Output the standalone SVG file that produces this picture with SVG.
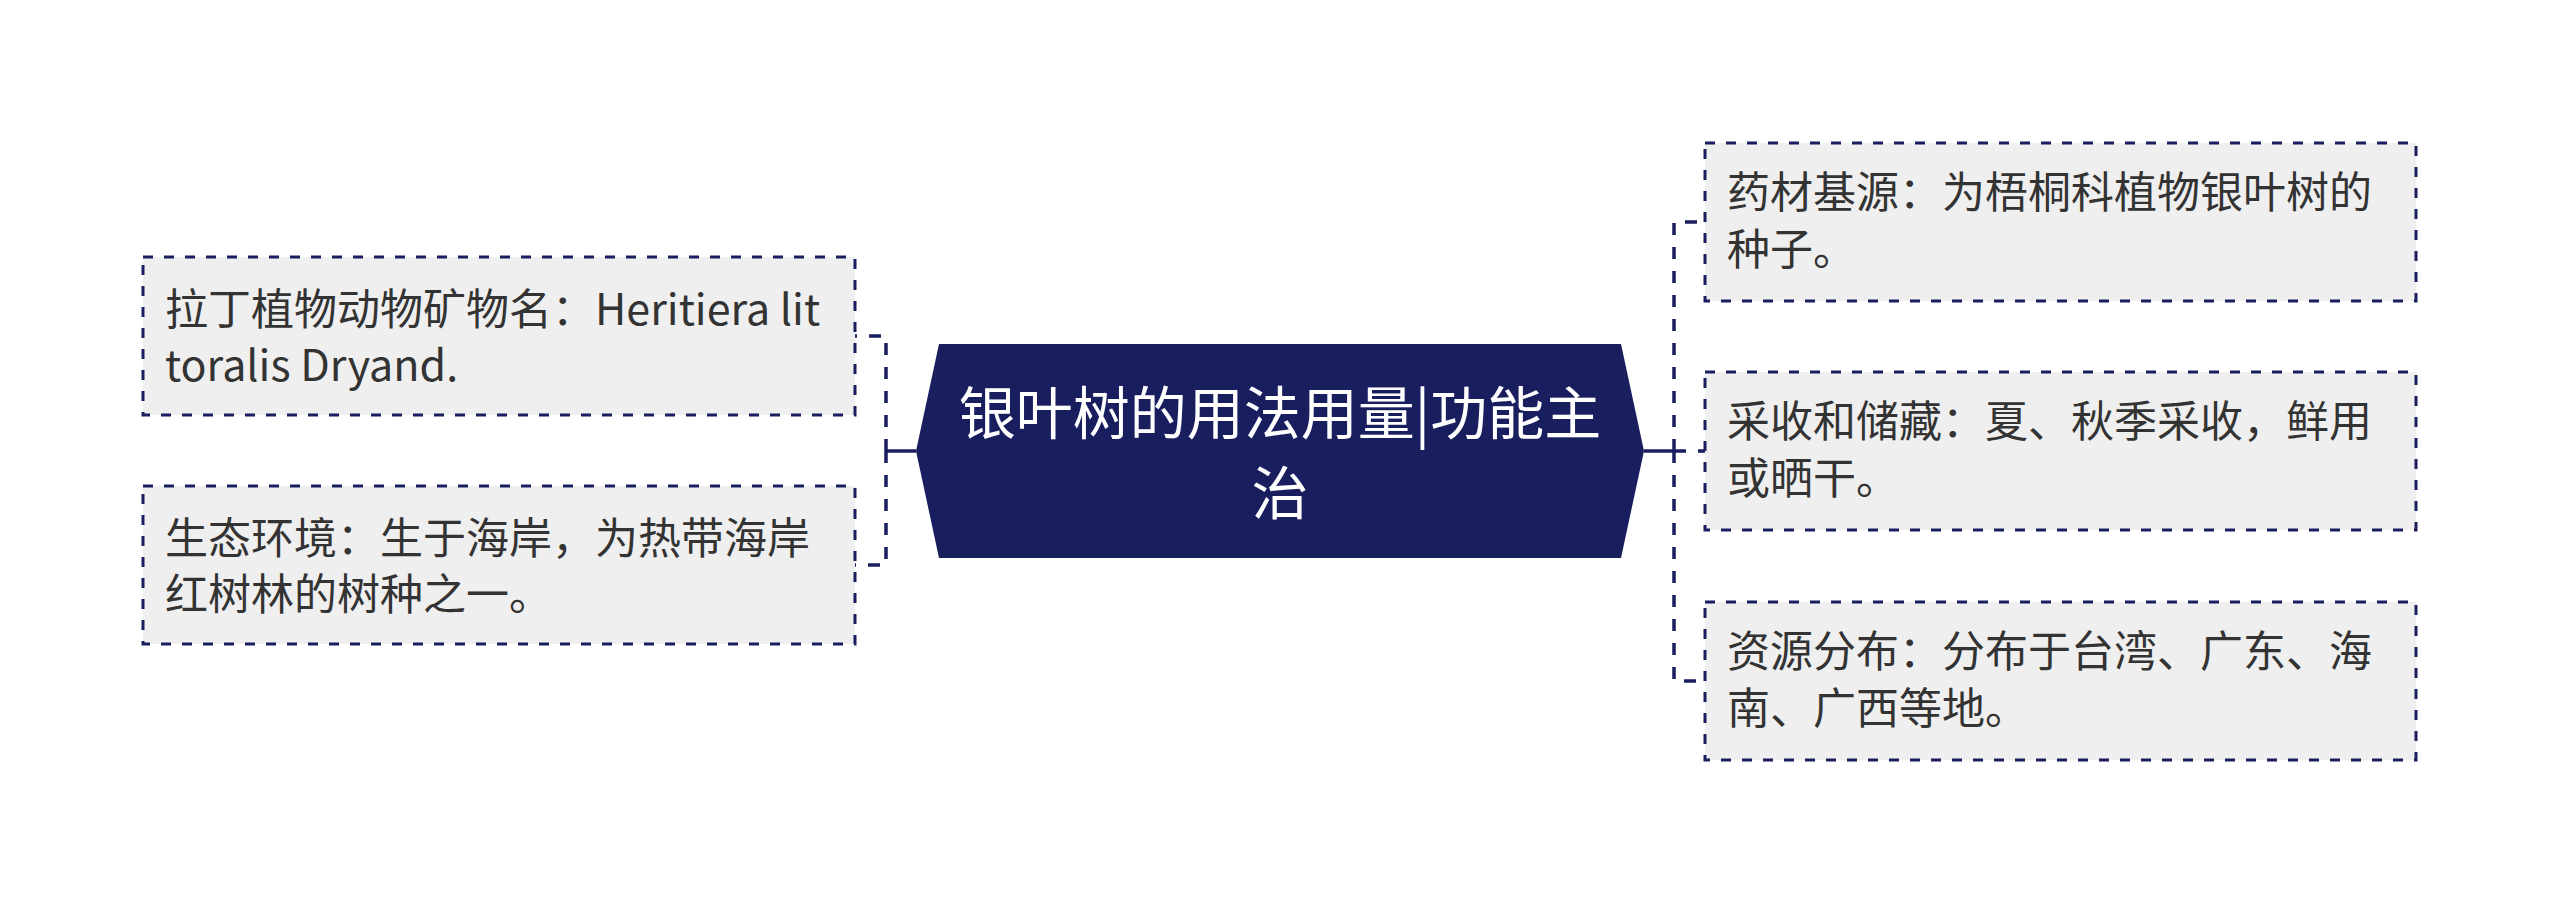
<svg xmlns="http://www.w3.org/2000/svg" width="2560" height="903" viewBox="0 0 2560 903">
<style>
.box{fill:#efefef;stroke:#191e5f;stroke-width:3;stroke-dasharray:10 11}
.t{font-family:"Noto Sans CJK SC","Noto Sans",sans-serif;font-size:43px;fill:#333333}
.ct{font-family:"Noto Sans CJK SC","Noto Sans",sans-serif;font-size:57px;fill:#ffffff;text-anchor:middle}
.dash{fill:none;stroke:#191e5f;stroke-width:3.5;stroke-dasharray:12 12}
.solid{fill:none;stroke:#191e5f;stroke-width:3.5}
</style>
<rect width="2560" height="903" fill="#ffffff"/>
<g id="connectors">
<path class="solid" d="M916,451 H886"/>
<path class="dash" d="M886,451 V336 H855"/>
<path class="dash" d="M886,451 V565 H855"/>
<path class="solid" d="M1644,451 H1674"/>
<path class="dash" d="M1674,451 V222 H1705"/>
<path class="dash" d="M1674,451 H1705"/>
<path class="dash" d="M1674,451 V681 H1705"/>
</g>
<g id="root">
<polygon points="939,344 1621,344 1644,451 1621,558 939,558 916,451" fill="#191e5f"/>
<text class="ct" x="1280" y="434">银叶树的用法用量|功能主</text>
<text class="ct" x="1280" y="514">治</text>
</g>
<g id="n-latin">
<rect class="box" x="143" y="257" width="712" height="158"/>
<text class="t" x="165" y="325">拉丁植物动物矿物名：Heritiera lit</text>
<text class="t" x="165" y="381">toralis Dryand.</text>
</g>
<g id="n-eco">
<rect class="box" x="143" y="486" width="712" height="158"/>
<text class="t" x="165" y="554">生态环境：生于海岸，为热带海岸</text>
<text class="t" x="165" y="610">红树林的树种之一。</text>
</g>
<g id="n-source">
<rect class="box" x="1705" y="143" width="711" height="158"/>
<text class="t" x="1727" y="208">药材基源：为梧桐科植物银叶树的</text>
<text class="t" x="1727" y="265">种子。</text>
</g>
<g id="n-harvest">
<rect class="box" x="1705" y="372" width="711" height="158"/>
<text class="t" x="1727" y="437">采收和储藏：夏、秋季采收，鲜用</text>
<text class="t" x="1727" y="494">或晒干。</text>
</g>
<g id="n-dist">
<rect class="box" x="1705" y="602" width="711" height="158"/>
<text class="t" x="1727" y="667">资源分布：分布于台湾、广东、海</text>
<text class="t" x="1727" y="724">南、广西等地。</text>
</g>
</svg>
